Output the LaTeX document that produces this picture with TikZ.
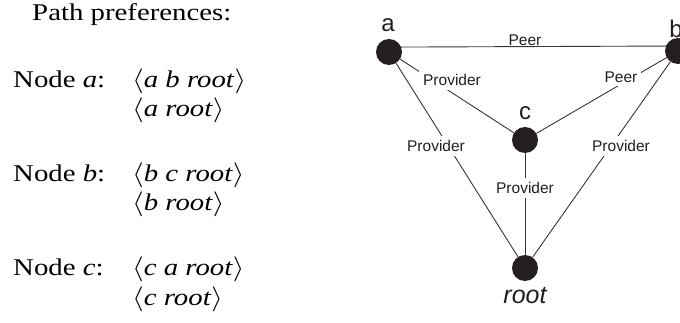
\documentclass[tikz,border=0pt]{standalone}
\usepackage{fontspec}
\setmainfont{Liberation Serif}
\setsansfont{Liberation Sans}
\definecolor{ink}{RGB}{35,31,32}
\begin{document}
\begin{tikzpicture}[x=1pt,y=-1pt,
  txt/.style={anchor=base west,inner sep=0pt,xscale=1.2,text=black,
    font=\fontsize{24}{28}\selectfont},
  dot/.style={circle,fill=ink,draw=none,minimum size=26pt,inner sep=0pt},
  vname/.style={anchor=base,inner sep=0pt,text=ink,
    font=\sffamily\fontsize{24}{28}\selectfont},
  edge/.style={draw=ink!90,line width=0.9pt},
  elbl/.style={fill=white,inner sep=4pt,text=ink,
    font=\sffamily\fontsize{15.5}{18}\selectfont}]
\useasboundingbox (0,0) rectangle (680,323);

% --- path preferences listing ---
\node[txt] (title) at (32,21) {Path preferences:};
\node[txt] (na)  at (13,88)  {Node \textit{a}:};
\node[txt] (pa1) at (132,88) {$\langle$\textit{a b root}$\rangle$};
\node[txt] (pa2) at (132,117) {$\langle$\textit{a root}$\rangle$};
\node[txt] (nb)  at (13,182) {Node \textit{b}:};
\node[txt] (pb1) at (132,182) {$\langle$\textit{b c root}$\rangle$};
\node[txt] (pb2) at (132,211) {$\langle$\textit{b root}$\rangle$};
\node[txt] (nc)  at (13,276) {Node \textit{c}:};
\node[txt] (pc1) at (132,276) {$\langle$\textit{c a root}$\rangle$};
\node[txt] (pc2) at (132,305) {$\langle$\textit{c root}$\rangle$};

% --- topology ---
\node[dot] (a) at (389,52) {};
\node[dot] (b) at (678,51) {};
\node[dot] (c) at (525,140) {};
\node[dot] (r) at (525,268) {};

\node[vname] (la) at (388,32) {a};
\node[vname] (lb) at (676,38) {b};
\node[vname] (lc) at (525,120) {c};
\node[vname,font=\sffamily\itshape\fontsize{25}{28}\selectfont] (lr) at (525,303) {root};

\draw[edge] (a.22) -- (b.158);
\draw[edge] (a) -- (c);
\draw[edge] (c) -- (b);
\draw[edge] (a) -- (r);
\draw[edge] (b) -- (r);
\draw[edge] (c) -- (r);

\node[elbl,fill=none] (eab) at (525,40) {Peer};
\node[elbl] (eac) at (452,80) {Provider};
\node[elbl] (ecb) at (621,77) {Peer};
\node[elbl] (ear) at (436,146) {Provider};
\node[elbl] (ebr) at (621,146) {Provider};
\node[elbl] (ecr) at (525,188) {Provider};
\end{tikzpicture}
\end{document}
